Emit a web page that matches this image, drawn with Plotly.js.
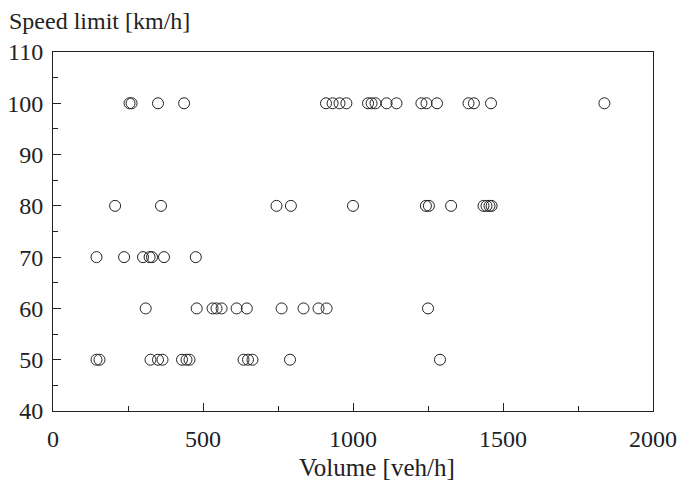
<!DOCTYPE html>
<html>
<head>
<meta charset="utf-8">
<script src="https://cdn.plot.ly/plotly-3.0.1.min.js"></script>
<style>
  html, body { margin: 0; padding: 0; background: #fff; }
  #chart { width: 677px; height: 480px; }
</style>
</head>
<body>
<div id="chart"></div>
<script>
// Observed traffic volume per site, grouped by posted speed limit
const volume100 = [255, 262, 350, 437, 910, 932, 955, 978, 1050, 1062, 1075, 1112, 1145, 1228, 1245, 1280, 1385, 1403, 1460, 1838];
const volume80 = [207, 360, 745, 793, 1000, 1243, 1253, 1327, 1435, 1445, 1455, 1462];
const volume70 = [145, 237, 300, 322, 330, 370, 476];
const volume60 = [309, 479, 532, 545, 562, 612, 646, 762, 835, 885, 912, 1250];
const volume50 = [145, 155, 325, 350, 365, 430, 445, 455, 635, 650, 665, 790, 1290];

const speedGroups = [
  { limit: 100, volumes: volume100 },
  { limit: 80, volumes: volume80 },
  { limit: 70, volumes: volume70 },
  { limit: 60, volumes: volume60 },
  { limit: 50, volumes: volume50 }
];

const xs = [], ys = [];
speedGroups.forEach(g => g.volumes.forEach(v => { xs.push(v); ys.push(g.limit); }));

const serif = 'Liberation Serif';
const ink = '#222';

const trace = {
  x: xs,
  y: ys,
  type: 'scatter',
  mode: 'markers',
  marker: { symbol: 'circle-open', size: 11, color: ink, line: { width: 1, color: ink } },
  hoverinfo: 'x+y'
};

const axisBase = {
  showline: true,
  mirror: true,
  linecolor: ink,
  linewidth: 1,
  showgrid: false,
  zeroline: false,
  ticks: 'inside',
  ticklen: 8,
  tickwidth: 1,
  tickcolor: ink,
  tickfont: { family: serif, size: 24, color: ink }
};

const titleFont = { family: serif, size: 24, color: ink };

const layout = {
  width: 677,
  height: 480,
  paper_bgcolor: '#fff',
  plot_bgcolor: '#fff',
  margin: { l: 53, r: 24, t: 52, b: 69 },
  showlegend: false,
  xaxis: Object.assign({}, axisBase, {
    range: [0, 2000],
    tickvals: [0, 500, 1000, 1500, 2000],
    minor: { ticks: 'inside', ticklen: 5, tickwidth: 1, tickcolor: ink, dtick: 250, tick0: 0 },
    ticklabelstandoff: 6
  }),
  yaxis: Object.assign({}, axisBase, {
    range: [40, 110],
    tickvals: [40, 50, 60, 70, 80, 90, 100, 110],
    minor: { ticks: 'inside', ticklen: 5, tickwidth: 1, tickcolor: ink, dtick: 5, tick0: 0 },
    ticklabelstandoff: 4
  }),
  annotations: [
    {
      // y-axis caption sits above the frame, left aligned
      text: 'Speed limit [km/h]',
      xref: 'paper', yref: 'paper',
      x: -0.076, y: 1.087,
      xanchor: 'left', yanchor: 'middle',
      showarrow: false,
      font: titleFont
    },
    {
      text: 'Volume [veh/h]',
      xref: 'paper', yref: 'paper',
      x: 0.54, y: -0.156,
      xanchor: 'center', yanchor: 'middle',
      showarrow: false,
      font: { family: serif, size: 25, color: ink }
    }
  ]
};

Plotly.newPlot('chart', [trace], layout, { displayModeBar: false, staticPlot: true });
</script>
</body>
</html>
